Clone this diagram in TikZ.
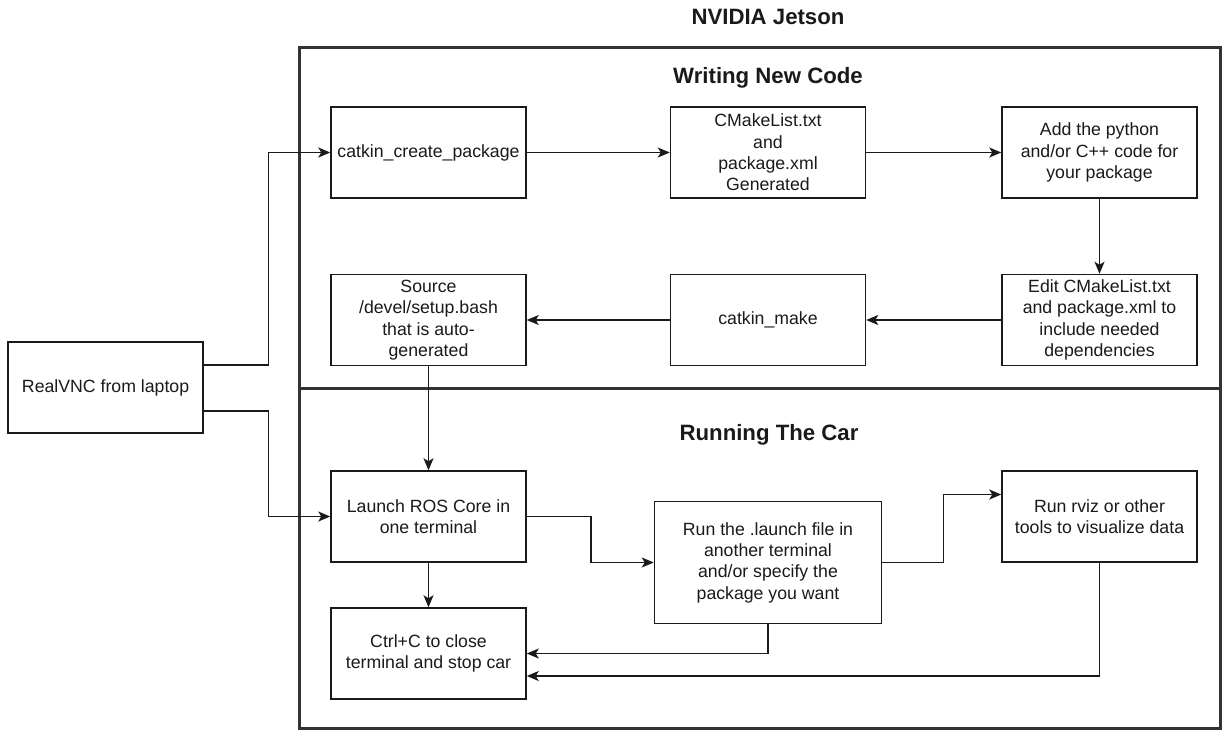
\documentclass[tikz,border=0pt]{standalone}
\usepackage{fontspec}
\setmainfont{Liberation Sans}
\usepackage{tikz}
\usetikzlibrary{arrows.meta,positioning}
\definecolor{rosInk}{HTML}{1A1A1A}
\definecolor{rosFrame}{HTML}{333333}
\tikzset{
  every picture/.style={font=\fontsize{8.85pt}{10.65pt}\selectfont, text=rosInk},
  ros box/.style={draw=rosInk, line width=0.75pt, fill=white, align=center,
    minimum width=97.5pt, minimum height=45.5pt, inner xsep=1pt, inner ysep=1pt},
  ros frame/.style={draw=rosFrame, line width=1.5pt},
  ros title/.style={font=\fontsize{11.1pt}{13pt}\selectfont\bfseries},
  ros arrow/.style={-{Stealth[length=6pt,width=5pt,inset=1.5pt]},
    draw=rosInk, line width=0.75pt, line cap=butt}
}
\begin{document}
\begin{tikzpicture}[x=0.5pt,y=-0.5pt]
  \useasboundingbox (0,0) rectangle (1225,729);
  % Jetson frame
  \node[ros title] (jetson) at (768,17) {NVIDIA Jetson};
  \draw[ros frame] (299,47) rectangle (1220,388);
  \draw[ros frame] (299,388) rectangle (1220,728);
  \node[ros title] (writing) at (768,78) {Writing New Code};
  \node[ros title] (running) at (769,435) {Running The Car};
  % writing new code
  \node[ros box] (create) at (428.5,152.5) {catkin\_create\_package};
  \node[ros box] (cmake) at (768,152.5) {CMakeList.txt\\and\\package.xml\\Generated};
  \node[ros box] (addcode) at (1099.5,152.5) {Add the python\\and/or C++ code for\\your package};
  \node[ros box] (editdeps) at (1099.5,320) {Edit CMakeList.txt\\and package.xml to\\include needed\\dependencies};
  \node[ros box] (make) at (768,320) {catkin\_make};
  \node[ros box] (source) at (428.5,320) {Source\\/devel/setup.bash\\that is auto-\\generated};
  % laptop
  \node[ros box] (vnc) at (105.6,387.5) {RealVNC from laptop};
  % running the car
  \node[ros box] (roscore) at (428.5,516.5) {Launch ROS Core in\\one terminal};
  \node[ros box] (ctrlc) at (428.5,653.5) {Ctrl+C to close\\terminal and stop car};
  \node[ros box, minimum width=113.5pt, minimum height=61pt] (launch) at (768,562.5)
    {Run the .launch file in\\another terminal\\and/or specify the\\package you want};
  \node[ros box] (rviz) at (1099.5,516.5) {Run rviz or other\\tools to visualize data};
  % connectors
  \draw[ros arrow] ([yshift=11.25pt]vnc.east) -- ++(64.5,0) |- (create.west);
  \draw[ros arrow] ([yshift=-11.75pt]vnc.east) -- ++(64.5,0) |- (roscore.west);
  \draw[ros arrow] (create) -- (cmake);
  \draw[ros arrow] (cmake) -- (addcode);
  \draw[ros arrow] (addcode) -- (editdeps);
  \draw[ros arrow] (editdeps) -- (make);
  \draw[ros arrow] (make) -- (source);
  \draw[ros arrow] (source) -- (roscore);
  \draw[ros arrow] (roscore) -- (ctrlc);
  \draw[ros arrow] (roscore.east) -- ++(64,0) |- (launch.west);
  \draw[ros arrow] (launch.east) -- ++(61.3,0) |- ([yshift=11pt]rviz.west);
  \draw[ros arrow] (launch.south) |- (ctrlc.east);
  \draw[ros arrow] (rviz.south) |- ([yshift=-11.25pt]ctrlc.east);
\end{tikzpicture}
\end{document}
